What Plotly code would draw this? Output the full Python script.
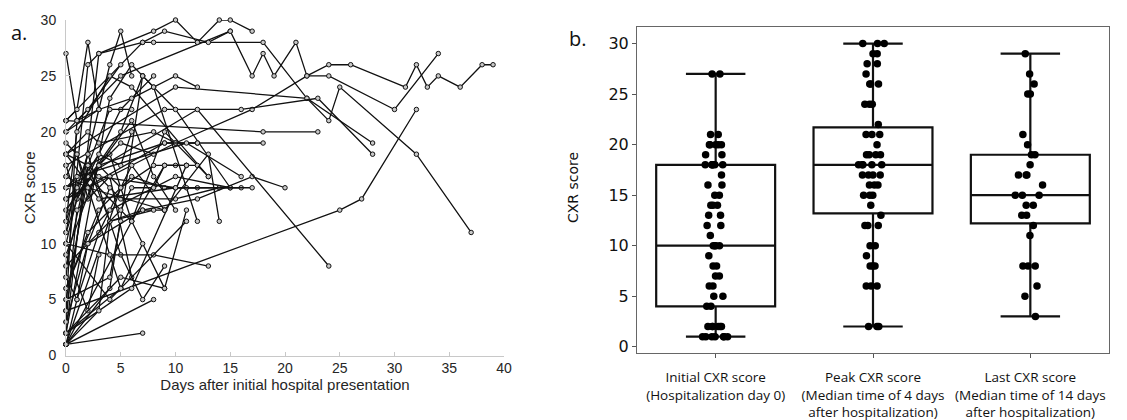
import plotly.graph_objects as go

# ---------------- Panel a data: per-patient trajectories ----------------
patient_days = [
    [0, 10, 17, 22, 24, 26, 31, 32, 33, 34, 36, 38, 39],
    [0, 5, 15, 17, 18, 19, 21, 22, 24, 30, 34],
    [0, 10, 22, 24, 25, 32, 37],
    [0, 25, 27, 32],
    [0, 7, 8, 18, 22, 28],
    [0, 9, 16, 23, 28],
    [0, 18, 23],
    [0, 9, 10, 12, 18],
    [0, 3, 8, 10, 12, 14, 15, 17],
    [0, 2, 3, 7, 9, 13, 15],
    [0, 1, 3],
    [0, 1, 2, 3],
    [0, 2, 4, 5, 6],
    [0, 1, 2, 5],
    [0, 4, 6, 7],
    [0, 1, 5, 8],
    [0, 5, 7, 10, 15],
    [0, 4, 7, 8, 12],
    [0, 2, 4, 6, 9, 11],
    [0, 6, 9, 13],
    [0, 3, 6, 9, 11, 12],
    [0, 1, 2, 3, 4, 5],
    [0, 2, 4, 7, 9],
    [0, 1, 3, 5, 8],
    [0, 3, 6, 8, 10],
    [0, 2, 6, 9],
    [0, 1, 4, 6],
    [0, 1, 5],
    [0, 2, 5, 7, 9],
    [0, 4, 8, 13],
    [0, 7],
    [0, 5, 7],
    [0, 1, 3, 6, 9],
    [0, 2, 4, 6],
    [0, 1, 3, 5, 6],
    [0, 2, 3, 8, 10],
    [0, 3, 6, 8, 10, 12],
    [0, 2, 5, 10, 14],
    [0, 5, 8, 10],
    [0, 2, 4, 10, 15],
    [0, 3, 9, 12],
    [0, 1, 4, 6, 13],
    [0, 6, 11],
    [0, 2, 3],
    [0, 1, 2, 4],
    [0, 3, 4, 8],
    [0, 4, 5],
    [0, 5, 6, 8, 9, 11, 12],
    [0, 3, 10, 16],
    [0, 2, 7, 12, 17, 20],
    [0, 8],
    [0, 5, 9, 11],
    [0, 4, 5, 11],
    [0, 2, 9, 13, 14],
    [0, 3, 10, 17],
    [0, 1, 11, 16],
    [0, 12, 24],
]
patient_scores = [
    [14, 19, 22, 25, 26, 26, 24, 26, 24, 25, 24, 26, 26],
    [20, 25, 29, 25, 27, 25, 28, 25, 25, 22, 27],
    [18, 24, 23, 21, 24, 18, 11],
    [4, 13, 14, 22],
    [21, 28, 28, 28, 23, 19],
    [17, 22, 22, 23, 18],
    [21, 20, 20],
    [14, 19, 19, 19, 19],
    [2, 27, 29, 30, 28, 30, 30, 29],
    [7, 26, 27, 28, 29, 28, 29],
    [27, 21, 22],
    [21, 22, 28, 22],
    [12, 18, 26, 29, 25],
    [4, 21, 22, 26],
    [2, 23, 26, 25],
    [17, 14, 22, 25],
    [13, 20, 25, 22, 15],
    [1, 6, 25, 24, 12],
    [8, 17, 18, 12, 17, 17],
    [1, 12, 20, 16],
    [6, 13, 16, 15, 15, 15],
    [16, 18, 14, 17, 16, 15],
    [15, 17, 12, 13, 13],
    [11, 14, 17, 19, 18],
    [9, 17, 21, 16, 13],
    [5, 16, 12, 6],
    [3, 13, 16, 7],
    [19, 18, 6],
    [10, 18, 9, 5, 8],
    [10, 9, 9, 8],
    [1, 2],
    [2, 6, 10],
    [1, 5, 11, 17, 13],
    [4, 17, 22, 22],
    [14, 15, 18, 17, 20],
    [18, 20, 19, 20, 19],
    [20, 22, 23, 24, 25, 24],
    [18, 17, 14, 14, 15],
    [1, 15, 17, 17],
    [6, 11, 13, 16, 15],
    [13, 17, 19, 19],
    [12, 20, 25, 24, 16],
    [2, 6, 17],
    [9, 4, 9],
    [7, 5, 10, 15],
    [1, 4, 12, 13],
    [5, 7, 12],
    [8, 13, 15, 15, 17, 17, 17],
    [15, 16, 15, 15],
    [3, 10, 13, 14, 16, 15],
    [1, 5],
    [2, 7, 6, 13],
    [10, 5, 6, 12],
    [16, 15, 13, 18, 12],
    [18, 14, 15, 15],
    [11, 16, 19, 16],
    [15, 22, 8],
]

# ---------------- Panel b data ----------------
categories = [
    "Initial CXR score<br>(Hospitalization day 0)",
    "Peak CXR score<br>(Median time of 4 days<br>after hospitalization)",
    "Last CXR score<br>(Median time of 14 days<br>after hospitalization)",
]
box_q1 = [4, 13.2, 12.2]
box_median = [10, 18, 15]
box_q3 = [18, 21.7, 19]
box_low = [1, 2, 3]
box_high = [27, 30, 29]

initial_scores = [27, 27, 21, 21, 20, 20, 20, 20, 20, 19, 19, 18, 18, 18, 18, 18, 18,
                  17, 16, 16, 15, 15, 14, 14, 14, 13, 13, 12, 12, 11, 10, 10, 10, 10,
                  9, 8, 8, 7, 7, 6, 6, 5, 5, 4, 4, 2, 2, 2, 2, 2, 2, 1, 1, 1, 1, 1, 1, 1]
peak_scores = [30, 30, 30, 29, 29, 28, 28, 27, 26, 26, 26, 24, 24, 24, 22, 21, 21, 21,
               20, 19, 19, 19, 19, 18, 18, 18, 18, 18, 17, 17, 17, 17, 16, 16, 16,
               15, 15, 15, 14, 13, 12, 12, 12, 10, 10, 9, 8, 8, 8, 6, 6, 6, 2, 2, 2]
last_scores = [29, 27, 26, 25, 25, 21, 20, 19, 19, 18, 17, 17, 17, 16, 15, 15, 15,
               14, 14, 13, 13, 12, 11, 8, 8, 8, 6, 5, 3]
point_groups = [initial_scores, peak_scores, last_scores]

# The page body has an 8px margin, so the figure is drawn 8px in from the
# top-left corner; all pixel positions below are relative to the figure.
W, H = 1119, 412

fig = go.Figure()

# Panel a traces
for d, s in zip(patient_days, patient_scores):
    fig.add_trace(go.Scatter(
        x=d, y=s, mode="lines+markers", xaxis="x", yaxis="y",
        line=dict(color="#111111", width=1.3),
        marker=dict(symbol="circle", size=4.5, color="#c8c8c8",
                    line=dict(color="#111111", width=1)),
        cliponaxis=False, showlegend=False, hoverinfo="skip"))

# Panel b boxes
fig.add_trace(go.Box(
    x=categories, q1=box_q1, median=box_median, q3=box_q3,
    lowerfence=box_low, upperfence=box_high,
    xaxis="x2", yaxis="y2", width=0.756, whiskerwidth=0.5,
    fillcolor="white", line=dict(color="#111111", width=2.2),
    boxpoints=False, showlegend=False, hoverinfo="skip"))

for cat, vals in zip(categories, point_groups):
    fig.add_trace(go.Box(
        x=[cat] * len(vals), y=vals, xaxis="x2", yaxis="y2",
        width=0.756, boxpoints="all", jitter=0.26, pointpos=0,
        fillcolor="rgba(0,0,0,0)", line=dict(color="rgba(0,0,0,0)", width=0),
        marker=dict(color="#000000", size=7.5),
        showlegend=False, hoverinfo="skip"))

grey_a = "#c8c8c8"
font_a = "Arial, Liberation Sans, sans-serif"
fig.update_layout(
    template="none",
    width=W, height=H,
    margin=dict(l=0, r=0, t=0, b=0, autoexpand=False),
    paper_bgcolor="white", plot_bgcolor="white",
    boxmode="overlay",
    xaxis=dict(domain=[58 / W, 496 / W], range=[0, 40], anchor="y", automargin=False,
               tickvals=[0, 5, 10, 15, 20, 25, 30, 35, 40],
               ticks="inside", ticklen=4, tickcolor=grey_a,
               showline=True, linecolor=grey_a, linewidth=1,
               showgrid=False, zeroline=False,
               tickfont=dict(family=font_a, size=14, color="#262626"),
               title=dict(text="Days after initial hospital presentation",
                          font=dict(family=font_a, size=15, color="#262626"),
                          standoff=0)),
    yaxis=dict(domain=[(H - 347.5) / H, (H - 12) / H], range=[0, 30], anchor="x",
               automargin=False,
               tickvals=[0, 5, 10, 15, 20, 25, 30],
               ticks="inside", ticklen=4, tickcolor=grey_a,
               showline=True, linecolor=grey_a, linewidth=1,
               showgrid=False, zeroline=False, ticklabelstandoff=6,
               tickfont=dict(family=font_a, size=14, color="#262626"),
               title=dict(text="CXR score",
                          font=dict(family=font_a, size=15, color="#262626"),
                          standoff=1)),
    xaxis2=dict(domain=[629 / W, 1101 / W], range=[-0.5, 2.5], anchor="y2", automargin=False,
                type="category", categoryorder="array", categoryarray=categories,
                ticks="outside", ticklen=4, tickcolor="#555555",
                showline=True, linecolor="#666666", linewidth=1, mirror=True,
                showgrid=False, zeroline=False, ticklabelstandoff=8,
                tickfont=dict(family="Open Sans", size=13.5, color="#111111")),
    yaxis2=dict(domain=[(H - 345) / H, (H - 19) / H], range=[-0.62, 31.64], anchor="x2",
                automargin=False,
                tickvals=[0, 5, 10, 15, 20, 25, 30],
                ticks="outside", ticklen=4, tickcolor="#555555",
                showline=True, linecolor="#666666", linewidth=1, mirror=True,
                showgrid=False, zeroline=False, ticklabelstandoff=0,
                tickfont=dict(family="DejaVu Sans", size=16, color="#111111")),
    annotations=[
        dict(text="a.", x=1 / W, y=1 - 25 / H, xref="paper", yref="paper", showarrow=False,
             xanchor="left", yanchor="middle",
             font=dict(family="Open Sans", size=20, color="#111111")),
        dict(text="b.", x=559 / W, y=1 - 31 / H, xref="paper", yref="paper", showarrow=False,
             xanchor="left", yanchor="middle",
             font=dict(family="Open Sans", size=20, color="#111111")),
        dict(text="CXR score", x=565 / W, y=1 - 180 / H, xref="paper", yref="paper",
             showarrow=False, textangle=-90, xanchor="center", yanchor="middle",
             font=dict(family="DejaVu Sans", size=14, color="#111111")),
    ],
)

fig.write_html("out.html")
